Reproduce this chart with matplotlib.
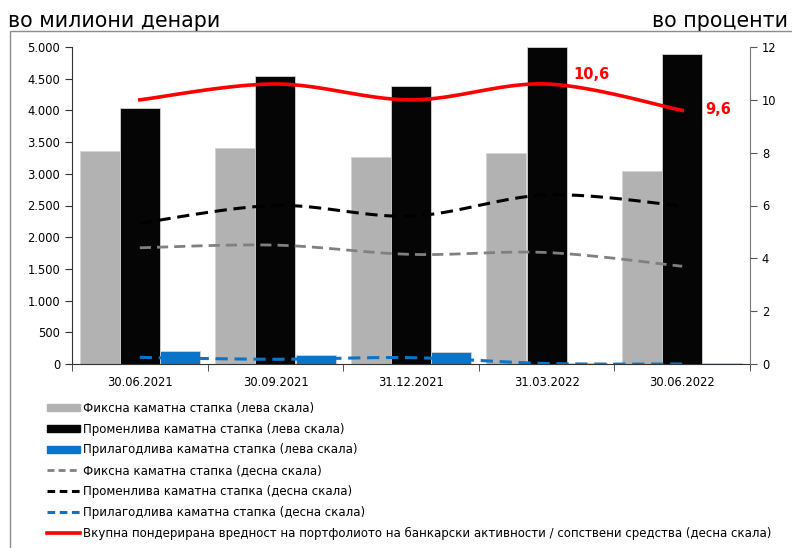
import numpy as np
import matplotlib.pyplot as plt
from matplotlib.patches import Rectangle
from matplotlib.lines import Line2D

dates = ["30.06.2021", "30.09.2021", "31.12.2021", "31.03.2022", "30.06.2022"]

# left scale, millions of denars
fixed_amt = [3360, 3410, 3265, 3325, 3045]
variable_amt = [4040, 4540, 4385, 5000, 4890]
adjustable_amt = [205, 137, 194, 8, 12]

# right scale, percent
fixed_pct = [4.40, 4.50, 4.15, 4.22, 3.70]
variable_pct = [5.33, 6.00, 5.60, 6.40, 5.98]
adjustable_pct = [0.25, 0.18, 0.24, 0.02, 0.00]
total_pct = [10.0, 10.6, 10.0, 10.6, 9.6]

labels = [
    "Фиксна каматна стапка (лева скала)",
    "Променлива каматна стапка (лева скала)",
    "Прилагодлива каматна стапка (лева скала)",
    "Фиксна каматна стапка (десна скала)",
    "Променлива каматна стапка (десна скала)",
    "Прилагодлива каматна стапка (десна скала)",
    "Вкупна пондерирана вредност на портфолиото на банкарски активности / сопствени средства (десна скала)",
]


def smooth(x, y, n=30):
    # bezier smoothing through every point, like a spreadsheet "smoothed line"
    p = np.column_stack([x, y]).astype(float)
    p = np.vstack([p[0], p, p[-1]])
    out = []
    t = np.linspace(0, 1, n)[:, None]
    for i in range(1, len(p) - 2):
        p0, p1, p2, p3 = p[i - 1], p[i], p[i + 1], p[i + 2]
        c1 = p1 + (p2 - p0) / 6.0
        c2 = p2 - (p3 - p1) / 6.0
        seg = ((1 - t) ** 3) * p1 + 3 * ((1 - t) ** 2) * t * c1 + 3 * (1 - t) * t ** 2 * c2 + t ** 3 * p2
        out.append(seg if i == 1 else seg[1:])
    s = np.vstack(out)
    return s[:, 0], s[:, 1]


plt.rcParams['font.family'] = ['DejaVu Sans']
fig = plt.figure(figsize=(7.92, 5.48), dpi=100)
ax = fig.add_axes([72 / 792, 1 - 364 / 548, 678 / 792, 317 / 548])
ax2 = ax.twinx()

x = np.arange(len(dates))
w = 0.295
edge = dict(edgecolor='#d4d4d4', linewidth=0.6)
ax.bar(x - 0.297, fixed_amt, w, color='#b2b2b2', **edge)
ax.bar(x, variable_amt, w, color='#050505', **edge)
ax.bar(x + 0.297, adjustable_amt, w, color='#0a74c8', **edge)

ax.set_xlim(-0.5, len(dates) - 0.5)
ax.set_ylim(0, 5000)
ax.set_yticks(np.arange(0, 5001, 500))
ax.set_yticklabels([f"{v:,}".replace(",", ".") for v in range(0, 5001, 500)], fontsize=8.3)
ax.set_xticks(x)
ax.set_xticklabels(dates, fontsize=8.3)
ax.set_xticks(np.arange(-0.5, len(dates), 1), minor=True)
ax.tick_params(axis='x', which='major', length=0, pad=9)
ax.tick_params(axis='x', which='minor', length=5, direction='out', color='#333333')
ax.tick_params(axis='y', length=5, direction='out', color='#333333')
for s in ['top', 'right']:
    ax.spines[s].set_visible(False)
ax.spines['left'].set_color('#333333')
ax.spines['bottom'].set_color('#333333')

ax2.set_ylim(0, 12)
ax2.set_yticks(np.arange(0, 13, 2))
ax2.tick_params(axis='y', length=5, direction='out', labelsize=8.3, color='#555555')
for s in ['top', 'left', 'bottom']:
    ax2.spines[s].set_visible(False)
ax2.spines['right'].set_color('#777777')

sx, sy = smooth(x, fixed_pct)
ax2.plot(sx, sy, color='#808080', lw=2.0, dashes=(4, 2.2))
sx, sy = smooth(x, variable_pct)
ax2.plot(sx, sy, color='#000000', lw=2.2, dashes=(4, 2.2))
sx, sy = smooth(x, adjustable_pct)
ax2.plot(sx, sy, color='#0a74c8', lw=2.2, dashes=(4, 2.2))
sx, sy = smooth(x, total_pct)
ax2.plot(sx, sy, color='#ff0000', lw=2.6)

for i, dx, dy in [(3, 32, 7), (4, 26, 1)]:
    ax2.annotate(f"{total_pct[i]:.1f}".replace(".", ","), (x[i], total_pct[i]),
                 xytext=(dx, dy), textcoords='offset points', ha='center', va='center',
                 color='#ff0000', fontsize=10.5, fontweight='bold')

# header texts and outer frame
fig.text(8 / 792, 1 - 27 / 548, "во милиони денари", fontsize=14.8, va='baseline')
fig.text(788 / 792, 1 - 27 / 548, "во проценти", fontsize=14.8, va='baseline', ha='right')
fig.add_artist(Rectangle((10 / 792, -0.1), 1.0, 1.1 - 31 / 548, transform=fig.transFigure,
                         fill=False, edgecolor='#8c8c8c', linewidth=1.0))

handles = [
    Rectangle((0, 0), 1, 1, color='#b2b2b2'),
    Rectangle((0, 0), 1, 1, color='#050505'),
    Rectangle((0, 0), 1, 1, color='#0a74c8'),
    Line2D([], [], color='#808080', lw=2.0, dashes=(2.5, 1.5)),
    Line2D([], [], color='#000000', lw=2.2, dashes=(2.5, 1.5)),
    Line2D([], [], color='#0a74c8', lw=2.2, dashes=(2.5, 1.5)),
    Line2D([], [], color='#ff0000', lw=2.6),
]
leg = fig.legend(handles, labels, loc='upper left', bbox_to_anchor=(47 / 792, 1 - 402 / 548),
                 frameon=False, prop={'size': 8.45},
                 handlelength=2.8, handleheight=0.5, handletextpad=0.25, labelspacing=0.66,
                 borderpad=0, borderaxespad=0)

fig.savefig("out.png", dpi=100)
